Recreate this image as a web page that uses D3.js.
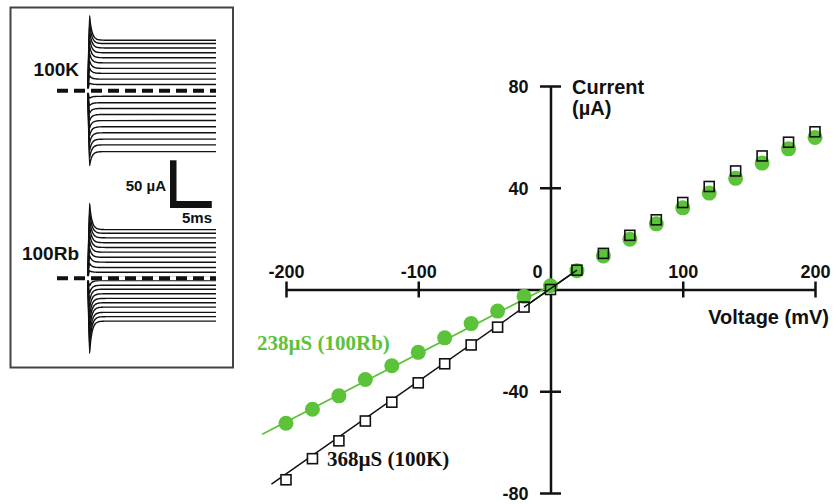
<!DOCTYPE html>
<html>
<head>
<meta charset="utf-8">
<script src="https://cdn.jsdelivr.net/npm/d3@7"></script>
<style>
  body { margin: 0; background: #fff; }
  svg { display: block; }
</style>
</head>
<body>
<div id="chart"></div>
<script>
// I-V data (mV, µA)
const voltages = [-200, -180, -160, -140, -120, -100, -80, -60, -40, -20, 0,
  20, 40, 60, 80, 100, 120, 140, 160, 180, 200]
const currentK = [-74.8, -66.5, -59.5, -51.7, -44.3, -36.7, -29.2, -21.8, -14.8, -6.9, 0,
  7.6, 14.2, 21.3, 27.4, 34.2, 40.5, 46.6, 52.5, 57.9, 62]
const currentRb = [-52.6, -47.1, -41.8, -35.4, -30, -24.7, -19, -13.4, -8.5, -2.7, 1.5,
  7.4, 13.2, 19.8, 25.8, 32.1, 37.9, 43.7, 49.7, 55.3, 59.8]

// fitted conductance lines (end points, mV / µA)
const fitK = [[-211, -76.5], [20, 7.6]]
const fitRb = [[-218, -56.9], [0, 1.5]]

const xTicks = [-200, -100, 0, 100, 200]
const yTicks = [-80, -40, 40, 80]

const GREEN = '#5cc23a'

const width = 833
const height = 504

const svg = d3.select('#chart').append('svg')
  .attr('width', width)
  .attr('height', height)

// ---------- I-V plot ----------
const x = d3.scaleLinear().domain([-200, 200]).range([286, 815])
const y = d3.scaleLinear().domain([-80, 80]).range([493, 86])

const plot = svg.append('g').attr('class', 'iv')

// x axis (labels above, ticks crossing the line)
plot.append('g')
  .attr('class', 'x-axis')
  .attr('transform', `translate(0, ${y(0)})`)
  .call(d3.axisTop(x).tickValues(xTicks).tickSize(8).tickSizeOuter(0)
    .tickFormat(d => d === 0 ? '' : String(d)))
  .call(g => g.select('.domain').attr('stroke', '#111').attr('stroke-width', 2.5))
  .call(g => g.selectAll('.tick line').attr('y1', 8).attr('stroke', '#111').attr('stroke-width', 2.5)
    .filter(d => d === 0).remove())
  .call(g => g.selectAll('.tick text')
    .attr('y', -12)
    .attr('fill', '#111')
    .attr('font-family', 'Liberation Sans, Arial, sans-serif')
    .attr('font-weight', 'bold')
    .attr('font-size', 18))

plot.append('text')
  .attr('x', x(0) - 13)
  .attr('y', y(0) - 12)
  .attr('text-anchor', 'middle')
  .attr('font-family', 'Liberation Sans, Arial, sans-serif')
  .attr('font-weight', 'bold')
  .attr('font-size', 18)
  .attr('fill', '#111')
  .text('0')

// y axis
plot.append('g')
  .attr('class', 'y-axis')
  .attr('transform', `translate(${x(0)}, 0)`)
  .call(d3.axisLeft(y).tickValues(yTicks).tickSize(10.5).tickSizeOuter(0).tickFormat(String))
  .call(g => g.select('.domain').attr('stroke', '#111').attr('stroke-width', 2.5))
  .call(g => g.selectAll('.tick line').attr('x1', 10.5).attr('stroke', '#111').attr('stroke-width', 2.5))
  .call(g => g.selectAll('.tick text')
    .attr('x', -22)
    .attr('dy', '0.36em')
    .attr('fill', '#111')
    .attr('font-family', 'Liberation Sans, Arial, sans-serif')
    .attr('font-weight', 'bold')
    .attr('font-size', 18))

// axis titles
const axisTitle = plot.append('g')
  .attr('font-family', 'Liberation Sans, Arial, sans-serif')
  .attr('font-weight', 'bold')
  .attr('font-size', 20)
  .attr('fill', '#111')
axisTitle.append('text').attr('x', 572).attr('y', 94).text('Current')
axisTitle.append('text').attr('x', 572).attr('y', 115).text('(µA)')
axisTitle.append('text').attr('x', 829).attr('y', 324).attr('text-anchor', 'end').text('Voltage (mV)')

const line = d3.line().x(d => x(d[0])).y(d => y(d[1]))
const sq = 10

// 100K fit line and white square bodies (hide the line inside each box)
plot.append('path')
  .attr('d', line(fitK))
  .attr('fill', 'none')
  .attr('stroke', '#111')
  .attr('stroke-width', 1.5)

plot.selectAll('.k-fill')
  .data(voltages)
  .enter().append('rect')
  .attr('class', 'k-fill')
  .attr('x', d => x(d) - sq / 2)
  .attr('y', (d, i) => y(currentK[i]) - sq / 2)
  .attr('width', sq)
  .attr('height', sq)
  .attr('fill', '#fff')

// 100Rb: fit + filled circles
plot.append('path')
  .attr('d', line(fitRb))
  .attr('fill', 'none')
  .attr('stroke', GREEN)
  .attr('stroke-width', 1.8)

plot.selectAll('.rb-point')
  .data(voltages)
  .enter().append('circle')
  .attr('class', 'rb-point')
  .attr('cx', d => x(d))
  .attr('cy', (d, i) => y(currentRb[i]))
  .attr('r', 7.5)
  .attr('fill', GREEN)

// black fit line segment crossing the circles near 0
plot.append('path')
  .attr('d', line([[-20, currentK[9]], fitK[1]]))
  .attr('fill', 'none')
  .attr('stroke', '#111')
  .attr('stroke-width', 1.5)

// 100K square outlines on top
plot.selectAll('.k-point')
  .data(voltages)
  .enter().append('rect')
  .attr('class', 'k-point')
  .attr('x', d => x(d) - sq / 2)
  .attr('y', (d, i) => y(currentK[i]) - sq / 2)
  .attr('width', sq)
  .attr('height', sq)
  .attr('fill', 'none')
  .attr('stroke', '#111')
  .attr('stroke-width', 1.6)

// conductance labels
plot.append('text')
  .attr('x', 257).attr('y', 350)
  .attr('font-family', 'Liberation Serif, Times New Roman, serif')
  .attr('font-weight', 'bold')
  .attr('font-size', 21)
  .attr('fill', GREEN)
  .text('238µS (100Rb)')

plot.append('text')
  .attr('x', 327).attr('y', 466)
  .attr('font-family', 'Liberation Serif, Times New Roman, serif')
  .attr('font-weight', 'bold')
  .attr('font-size', 21)
  .attr('fill', '#111')
  .text('368µS (100K)')

// ---------- inset: current traces ----------
const inset = svg.append('g').attr('class', 'inset')

inset.append('rect')
  .attr('x', 10.5).attr('y', 7.5)
  .attr('width', 222.5).attr('height', 360)
  .attr('fill', 'none')
  .attr('stroke', '#444')
  .attr('stroke-width', 2)

const t = d3.scaleLinear().domain([0, 16.5]).range([88, 216])
const pxPerUA = 40.7 / 50
const spikeGain = 0.46 // capacitive transient peak, µA per mV
const tau = 0.3 // ms

function tracePoints(v, level) {
  const peak = spikeGain * v
  const pts = [[0, 0], [0.2, peak]]
  d3.range(0.3, 3, 0.1).forEach(tt => {
    pts.push([tt, level + (peak - level) * Math.exp(-(tt - 0.2) / tau)])
  })
  pts.push([16.5, level])
  return pts
}

function drawTraces(zeroY, levels, label, labelY) {
  const yi = d3.scaleLinear().domain([0, 1]).range([zeroY, zeroY - pxPerUA])
  const traceLine = d3.line().x(d => t(d[0])).y(d => yi(d[1])).curve(d3.curveMonotoneX)
  const g = inset.append('g')

  g.selectAll('.trace')
    .data(voltages)
    .enter().append('path')
    .attr('class', 'trace')
    .attr('d', (v, i) => traceLine(tracePoints(v, levels[i])))
    .attr('fill', 'none')
    .attr('stroke', '#111')
    .attr('stroke-width', 1.4)

  // zero-current reference
  g.append('line')
    .attr('x1', 57).attr('x2', 216)
    .attr('y1', zeroY).attr('y2', zeroY)
    .attr('stroke', '#fff')
    .attr('stroke-width', 4)
  g.append('line')
    .attr('x1', 57).attr('x2', 216)
    .attr('y1', zeroY).attr('y2', zeroY)
    .attr('stroke', '#111')
    .attr('stroke-width', 4)
    .attr('stroke-dasharray', '11,6')

  g.append('text')
    .attr('x', 79).attr('y', labelY)
    .attr('text-anchor', 'end')
    .attr('font-family', 'Liberation Sans, Arial, sans-serif')
    .attr('font-weight', 'bold')
    .attr('font-size', 19)
    .attr('fill', '#111')
    .text(label)
}

drawTraces(90.7, currentK, '100K', 76)
drawTraces(278.3, currentRb, '100Rb', 260)

// scale bars: 50 µA, 5 ms
const bars = inset.append('g').attr('fill', '#111')
bars.append('rect')
  .attr('x', 170).attr('y', 201 - 50 * pxPerUA)
  .attr('width', 6.5).attr('height', 50 * pxPerUA + 7)
bars.append('rect')
  .attr('x', 170).attr('y', 201)
  .attr('width', t(5) - t(0) + 3).attr('height', 7)

const barText = inset.append('g')
  .attr('font-family', 'Liberation Sans, Arial, sans-serif')
  .attr('font-weight', 'bold')
  .attr('font-size', 15)
  .attr('fill', '#111')
barText.append('text').attr('x', 166).attr('y', 191).attr('text-anchor', 'end').text('50 µA')
barText.append('text').attr('x', 212).attr('y', 223).attr('text-anchor', 'end').text('5ms')
</script>
</body>
</html>
